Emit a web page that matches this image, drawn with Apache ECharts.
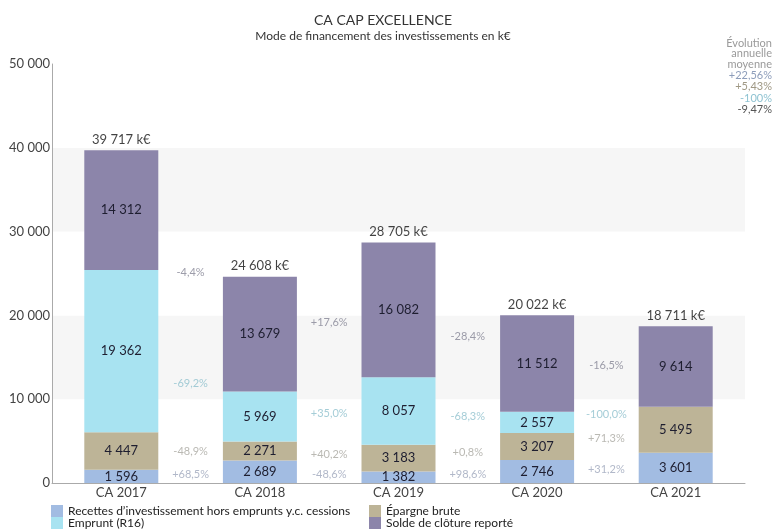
<!DOCTYPE html>
<html>
<head>
<meta charset="utf-8">
<script src="https://cdn.jsdelivr.net/npm/echarts@6/dist/echarts.min.js"></script>
<style>
  html, body { margin: 0; padding: 0; background: #fff; }
  #chart { width: 774px; height: 531px; }
</style>
</head>
<body>
<div id="chart"></div>
<script>
// années
var categories = ['CA 2017', 'CA 2018', 'CA 2019', 'CA 2020', 'CA 2021']
// séries (k€), de bas en haut
var recettes = [1596, 2689, 1382, 2746, 3601]
var epargne = [4447, 2271, 3183, 3207, 5495]
var emprunt = [19362, 5969, 8057, 2557, 0]
var solde = [14312, 13679, 16082, 11512, 9614]
var totaux = [39717, 24608, 28705, 20022, 18711]
// évolutions d'une année à l'autre
var evoRecettes = ['+68,5%', '-48,6%', '+98,6%', '+31,2%']
var evoEpargne = ['-48,9%', '+40,2%', '+0,8%', '+71,3%']
var evoEmprunt = ['-69,2%', '+35,0%', '-68,3%', '-100,0%']
var evoSolde = ['-4,4%', '+17,6%', '-28,4%', '-16,5%']
// évolution annuelle moyenne (recettes, épargne, emprunt, solde)
var evoMoyenne = ['+22,56%', '+5,43%', '-100%', '-9,47%']
var yTicks = [0, 10000, 20000, 30000, 40000, 50000]

var FONT = 'Lato, "Open Sans", sans-serif'
var colors = {
  recettes: '#a2bce2',
  epargne: '#bdb497',
  emprunt: '#a8e3f1',
  solde: '#8c85aa'
}

function fmt(n) {
  return String(n).replace(/\B(?=(\d{3})+(?!\d))/g, ' ')
}

var stackOrder = [recettes, epargne, emprunt, solde]
// milieu de chaque segment empilé
function milieux(idx) {
  return categories.map(function(c, i) {
    var base = 0
    for (var k = 0; k < idx; k++) base += stackOrder[k][i]
    return base + stackOrder[idx][i] / 2
  })
}
// étiquettes d'évolution placées entre deux barres
function evoData(idx, labels) {
  var m = milieux(idx)
  return labels.map(function(l, i) {
    return { value: [i + 1, (m[i] + m[i + 1]) / 2], label: { formatter: l } }
  })
}

function barSerie(name, data, color) {
  return {
    name: name,
    type: 'bar',
    stack: 'total',
    barWidth: 74,
    data: data,
    itemStyle: { color: color },
    label: {
      show: true,
      position: 'inside',
      color: '#1e1e30',
      fontSize: 13,
      fontFamily: FONT,
      formatter: function(p) { return p.value ? fmt(p.value) : '' }
    }
  }
}

function evoSerie(idx, labels, color) {
  return {
    type: 'scatter',
    xAxisIndex: 1,
    symbolSize: 0,
    silent: true,
    data: evoData(idx, labels),
    label: {
      show: true,
      position: 'inside',
      color: color,
      fontSize: 11,
      fontFamily: FONT
    }
  }
}

var legendText = { fontSize: 12, color: '#222', fontFamily: FONT, lineHeight: 11 }

var chart = echarts.init(document.getElementById('chart'))
chart.setOption({
  backgroundColor: '#fff',
  animation: false,
  title: [{
    text: 'CA CAP EXCELLENCE',
    subtext: 'Mode de financement des investissements en k€',
    left: 378,
    top: 8,
    textAlign: 'center',
    itemGap: 3,
    textStyle: { fontSize: 14, fontWeight: 'normal', color: '#333', fontFamily: FONT },
    subtextStyle: { fontSize: 12, color: '#333', fontFamily: FONT }
  }, {
    // bloc évolution annuelle moyenne
    text: '{h|Évolution}\n{h|annuelle}\n{h|moyenne}\n{a|' + evoMoyenne[0] + '}\n{b|' + evoMoyenne[1] +
      '}\n{c|' + evoMoyenne[2] + '}\n{d|' + evoMoyenne[3] + '}',
    left: 772,
    top: 38,
    padding: 0,
    textAlign: 'right',
    textStyle: {
      fontSize: 11,
      fontWeight: 'normal',
      fontFamily: FONT,
      rich: {
        h: { color: '#9a9a9a', fontSize: 11, lineHeight: 10.5, fontFamily: FONT },
        a: { color: '#8d9dba', fontSize: 11, lineHeight: 11.5, fontFamily: FONT },
        b: { color: '#9f9884', fontSize: 11, lineHeight: 11.5, fontFamily: FONT },
        c: { color: '#8fc3d2', fontSize: 11, lineHeight: 11.5, fontFamily: FONT },
        d: { color: '#555', fontSize: 11, lineHeight: 11.5, fontFamily: FONT }
      }
    }
  }],
  legend: [{
    data: ['Recettes d\u2019investissement hors emprunts y.c. cessions', 'Emprunt (R16)'],
    orient: 'vertical',
    left: 51,
    top: 505,
    padding: 0,
    itemGap: 0,
    itemWidth: 12,
    itemHeight: 12,
    icon: 'rect',
    textStyle: legendText
  }, {
    data: ['Épargne brute', 'Solde de clôture reporté'],
    orient: 'vertical',
    left: 369,
    top: 505,
    padding: 0,
    itemGap: 0,
    itemWidth: 12,
    itemHeight: 12,
    icon: 'rect',
    textStyle: legendText
  }],
  grid: { left: 52, right: 29, top: 64, bottom: 48 },
  xAxis: [{
    type: 'category',
    data: categories,
    axisTick: { show: false },
    axisLine: { lineStyle: { color: '#aaa' } },
    axisLabel: { color: '#444', fontSize: 13, fontFamily: FONT, margin: 3 }
  }, {
    type: 'value',
    min: 0,
    max: 5,
    show: false
  }],
  yAxis: {
    type: 'value',
    min: yTicks[0],
    max: yTicks[yTicks.length - 1],
    interval: 10000,
    axisLine: { show: true, lineStyle: { color: '#aaa' } },
    axisTick: { show: false },
    splitLine: { show: false },
    splitArea: { show: true, areaStyle: { color: ['#ffffff', '#f6f6f6'] } },
    axisLabel: { color: '#444', fontSize: 13, fontFamily: FONT, margin: 2, formatter: fmt }
  },
  series: [
    barSerie('Recettes d\u2019investissement hors emprunts y.c. cessions', recettes, colors.recettes),
    barSerie('Épargne brute', epargne, colors.epargne),
    barSerie('Emprunt (R16)', emprunt, colors.emprunt),
    barSerie('Solde de clôture reporté', solde, colors.solde),
    {
      type: 'scatter',
      symbolSize: 0,
      silent: true,
      data: totaux,
      label: {
        show: true,
        position: 'top',
        distance: 4,
        color: '#111',
        fontSize: 13,
        fontFamily: FONT,
        formatter: function(p) { return fmt(p.value) + ' k€' }
      }
    },
    evoSerie(0, evoRecettes, '#9ea6bc'),
    evoSerie(1, evoEpargne, '#a9a7a0'),
    evoSerie(2, evoEmprunt, '#8fc0cd'),
    evoSerie(3, evoSolde, '#858595')
  ]
})
</script>
</body>
</html>
